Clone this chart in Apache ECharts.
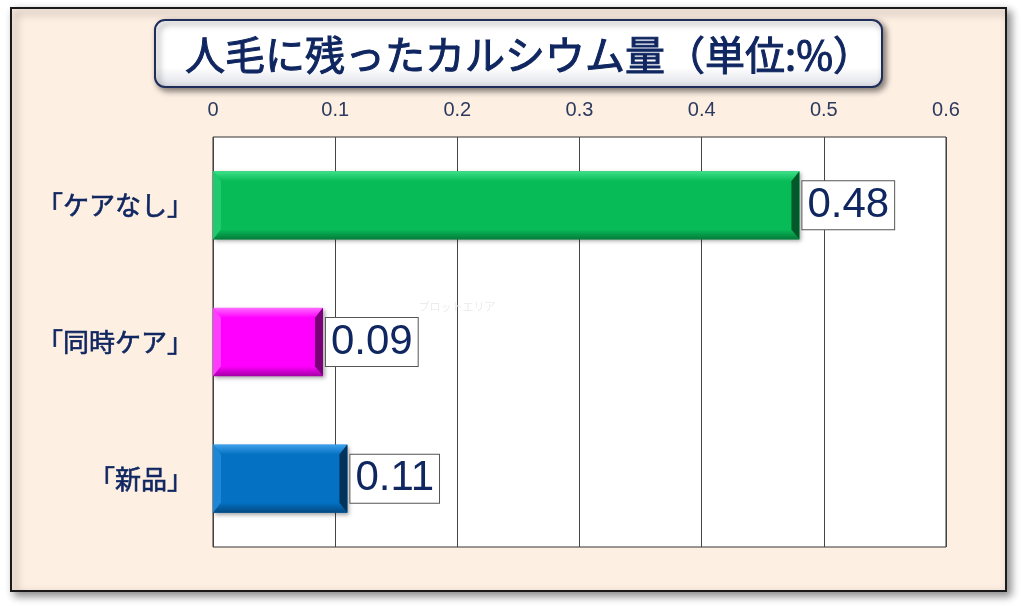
<!DOCTYPE html>
<html lang="ja">
  <head>
    <meta charset="UTF-8" />
    <title>人毛に残ったカルシウム量</title>
    <style>
      body, html {
        margin: 0;
        width: 100%;
        height: 100%;
        background: #fff;
      }
    </style>
  </head>
  <body>
    <div id="main" style="width:1021px;height:606px;"></div>

    <script src="https://cdn.jsdelivr.net/npm/echarts@6/dist/echarts.min.js"></script>
    <script>
      const titleText = '人毛に残ったカルシウム量（単位:%）';
      const categories = ['「ケアなし」', '「同時ケア」', '「新品」'];
      const values = [0.48, 0.09, 0.11];
      // main / top / left / bottom / right
      const barColors = [
        ['#07BB57', '#3FE08A', '#1FCB6C', '#057A3A', '#03582A'],
        ['#FF00FF', '#FF6BFF', '#FF3DFF', '#A400A4', '#7A007A'],
        ['#0571C2', '#3EA2EC', '#1E86D6', '#03487F', '#02335B'],
      ];
      const axisMin = 0;
      const axisMax = 0.6;
      const axisStep = 0.1;

      const navy = '#0F2660';

      const myChart = echarts.init(document.getElementById('main'));

      // bevel edges drawn over each bar
      function renderBevel(params, api) {
        const i = api.value(1);
        const c = barColors[i];
        const p0 = api.coord([0, i]);
        const p1 = api.coord([api.value(0), i]);
        const h = api.size([0, 1])[1] * 0.5;
        const x0 = p0[0], x1 = p1[0];
        const y0 = p0[1] - h / 2, y1 = p0[1] + h / 2;
        const b = 10, s = 8;
        const poly = (points, fill) => ({ type: 'polygon', shape: { points }, style: { fill } });
        return {
          type: 'group',
          children: [
            poly([[x0, y0], [x1, y0], [x1 - s, y0 + b], [x0 + s, y0 + b]],
              new echarts.graphic.LinearGradient(0, 0, 0, 1, [
                { offset: 0, color: c[1] },
                { offset: 1, color: c[0] },
              ])),
            poly([[x0, y0], [x0 + s, y0 + b], [x0 + s, y1 - b], [x0, y1]], c[2]),
            poly([[x0, y1], [x1, y1], [x1 - s, y1 - b], [x0 + s, y1 - b]],
              new echarts.graphic.LinearGradient(0, 0, 0, 1, [
                { offset: 0, color: c[0] },
                { offset: 1, color: c[3] },
              ])),
            poly([[x1, y0], [x1 - s, y0 + b], [x1 - s, y1 - b], [x1, y1]], c[4]),
          ],
        };
      }

      const option = {
        backgroundColor: '#fff',
        animation: false,
        graphic: [
          {
            type: 'rect',
            z: -10,
            shape: { x: 11, y: 8, width: 995, height: 583 },
            style: {
              fill: '#FEEFE3',
              stroke: '#1a1a1a',
              lineWidth: 2,
              shadowBlur: 8,
              shadowOffsetX: 4,
              shadowOffsetY: 4,
              shadowColor: 'rgba(0,0,0,0.45)',
            },
          },
          {
            type: 'rect',
            z: 10,
            shape: { x: 155, y: 20, width: 727, height: 67, r: 10 },
            style: {
              fill: new echarts.graphic.LinearGradient(0, 0, 0, 1, [
                { offset: 0, color: '#ffffff' },
                { offset: 0.7, color: '#ffffff' },
                { offset: 1, color: '#dcdde6' },
              ]),
              stroke: '#1F2D5A',
              lineWidth: 2,
              shadowBlur: 6,
              shadowOffsetX: 3,
              shadowOffsetY: 3,
              shadowColor: 'rgba(0,0,0,0.5)',
            },
          },
          {
            type: 'text',
            z: 11,
            x: 529,
            y: 55,
            style: {
              text: titleText,
              fill: navy,
              stroke: navy,
              lineWidth: 1,
              font: '40px "Noto Sans CJK JP"',
              textAlign: 'center',
              textVerticalAlign: 'middle',
            },
          },
          {
            type: 'text',
            z: 5,
            x: 457,
            y: 307,
            style: {
              text: 'プロットエリア',
              fill: '#ececec',
              font: '11px "Noto Sans CJK JP"',
              textAlign: 'center',
              textVerticalAlign: 'middle',
            },
          },
        ],
        grid: {
          left: 213,
          right: 75,
          top: 137,
          bottom: 59,
          show: true,
          backgroundColor: '#fff',
          borderColor: '#333',
          borderWidth: 1,
        },
        xAxis: {
          type: 'value',
          position: 'top',
          min: axisMin,
          max: axisMax,
          interval: axisStep,
          axisLine: { show: false },
          axisTick: { show: false },
          axisLabel: {
            margin: 17,
            fontSize: 20,
            color: '#2B3A5E',
            fontFamily: '"Liberation Sans", Arial, sans-serif',
          },
          splitLine: { lineStyle: { color: '#444', width: 1 } },
        },
        yAxis: {
          type: 'category',
          inverse: true,
          data: categories,
          axisLine: { show: false },
          axisTick: { show: false },
          axisLabel: {
            margin: 20,
            fontSize: 26,
            color: navy,
            textBorderColor: navy,
            textBorderWidth: 0.6,
            fontFamily: '"Noto Sans CJK JP", sans-serif',
          },
        },
        series: [
          {
            type: 'bar',
            barWidth: 68,
            data: values.map((v, i) => ({
              value: v,
              itemStyle: {
                color: barColors[i][0],
                shadowBlur: 4,
                shadowOffsetX: 2,
                shadowOffsetY: 2,
                shadowColor: 'rgba(0,0,0,0.35)',
              },
            })),
            label: {
              show: true,
              position: 'right',
              distance: 3,
              fontSize: 42,
              color: navy,
              fontFamily: '"Liberation Sans", Arial, sans-serif',
              backgroundColor: '#fff',
              borderColor: '#555',
              borderWidth: 1,
              padding: [4, 5, 2, 5],
            },
          },
          {
            type: 'custom',
            renderItem: renderBevel,
            encode: { x: 0, y: 1 },
            data: values.map((v, i) => [v, i]),
            z: 3,
          },
        ],
      };

      myChart.setOption(option);
    </script>
  </body>
</html>
